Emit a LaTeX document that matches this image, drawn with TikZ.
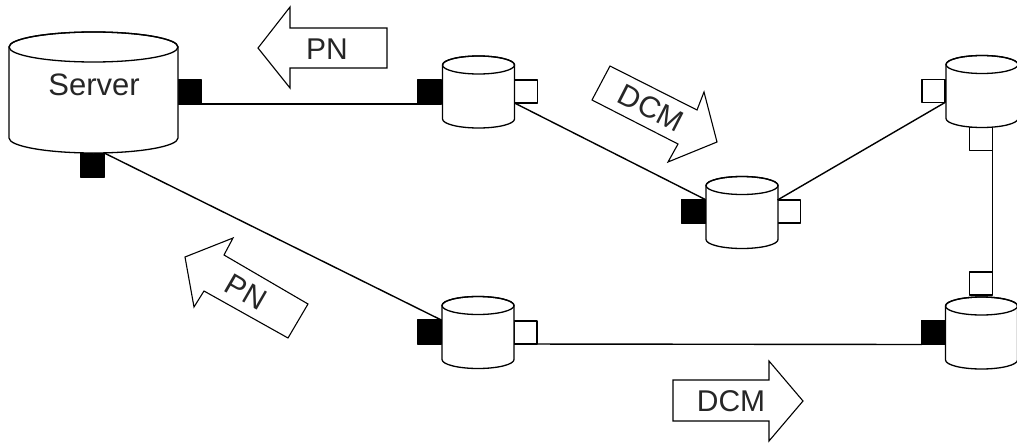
\documentclass[tikz,border=0pt]{standalone}
\usepackage{fontspec}
\setmainfont{Liberation Sans}
\usetikzlibrary{calc}
\tikzset{
  every node/.style={inner sep=0pt,outer sep=0pt},
  base/.style={draw=black,line width=1.3pt,line join=round},
  canbody/.style={rectangle,minimum width=72pt,minimum height=72pt},
  bigbody/.style={canbody,minimum width=169pt,minimum height=121pt},
  canline/.style={base,fill=white},
  blackport/.style={base,rectangle,fill=black,minimum width=23.5pt,minimum height=24pt},
  whiteport/.style={base,rectangle,fill=white,minimum width=23pt,minimum height=23pt},
  link/.style={draw=black,line width=1.4pt},
  flow/.style={draw=black,line width=1.1pt,fill=white,line join=miter},
  caption/.style={font=\fontsize{30}{30}\selectfont,text=black!85}
}
% #1 node name, #2 half width, #3 half height, #4 end radius
\newcommand{\drumshape}[4]{%
  \draw[canline] ($(#1.center)+(-#2,{-#3+#4})$) -- ($(#1.center)+(-#2,{#3-#4})$)
    arc[start angle=180,end angle=0,x radius=#2,y radius=#4]
    -- ($(#1.center)+(#2,{-#3+#4})$)
    arc[start angle=0,end angle=-180,x radius=#2,y radius=#4] -- cycle;
  \draw[base] ($(#1.center)+(-#2,{-#3+#4})$)
    arc[start angle=180,end angle=540,x radius=#2,y radius=#4];
}
\begin{document}
\begin{tikzpicture}[x=1pt,y=-1pt]
\useasboundingbox (0,0) rectangle (1017,442);
\begin{scope}
\clip (0,0) rectangle (1017,442);
% ports
\node[blackport] (srvR) at (189.5,92) {};
\node[blackport] (srvB) at (92.5,165) {};
\node[blackport] (aL) at (429.5,92) {};
\node[whiteport] (aR) at (526,91.5) {};
\node[blackport] (bL) at (429.5,332) {};
\node[whiteport] (bR) at (525.5,332.5) {};
\node[blackport] (cL) at (693.5,211.5) {};
\node[whiteport] (cR) at (789,211.5) {};
\node[whiteport] (dL) at (933.5,91) {};
\node[whiteport] (dB) at (981,139) {};
\node[whiteport] (eT) at (981,283.5) {};
\node[blackport] (eL) at (933.5,332.5) {};
% cylinders
\node[bigbody] (srv) at (93.5,92.5) {};
\drumshape{srv}{84.5}{60.5}{15}
\node[canbody] (a) at (478.5,92) {};
\drumshape{a}{36}{36}{9}
\node[canbody] (b) at (478,332.5) {};
\drumshape{b}{36}{36}{9}
\node[canbody] (c) at (742,212.5) {};
\drumshape{c}{36}{36}{9}
\node[canbody] (d) at (982,91.5) {};
\drumshape{d}{36}{36}{9}
\node[canbody] (e) at (981.5,333) {};
\drumshape{e}{36}{36}{9}
\node[caption,font=\fontsize{31}{31}\selectfont] (srvT) at (94,85) {Server};
% connectors
\draw[link] (srvR.south east) -- (aL.south west);
\draw[link] (srvB.north east) -- (bL.north east);
\draw[link] (aR.south west) -- (cL.north east);
\draw[link] (cR.north west) -- (dL.south east);
\draw[link] (bR.south west) -- (eL.south west);
\draw[link] (dB.north east) -- (eT.south east);
% flow arrows
\draw[flow] (258,48) -- (290,7) -- (290,28) -- (387,28) -- (387,68) -- (290,68) -- (290,88) -- cycle;
\node[caption] (pn1) at (327,49) {PN};
\draw[flow] (610,66) -- (697,110) -- (704,92) -- (717,142) -- (668,162) -- (678,144) -- (592,100) -- cycle;
\node[caption,rotate=-27] (dcm1) at (651,108) {DCM};
\draw[flow] (185,257) -- (233,238) -- (224,255) -- (308,304) -- (288,338) -- (204,291) -- (194,307) -- cycle;
\node[caption,rotate=-30] (pn2) at (246,292) {PN};
\draw[flow] (673,380) -- (769,380) -- (769,361) -- (803,401) -- (769,441) -- (769,421) -- (673,421) -- cycle;
\node[caption] (dcm2) at (731,401) {DCM};
\end{scope}
\end{tikzpicture}
\end{document}
